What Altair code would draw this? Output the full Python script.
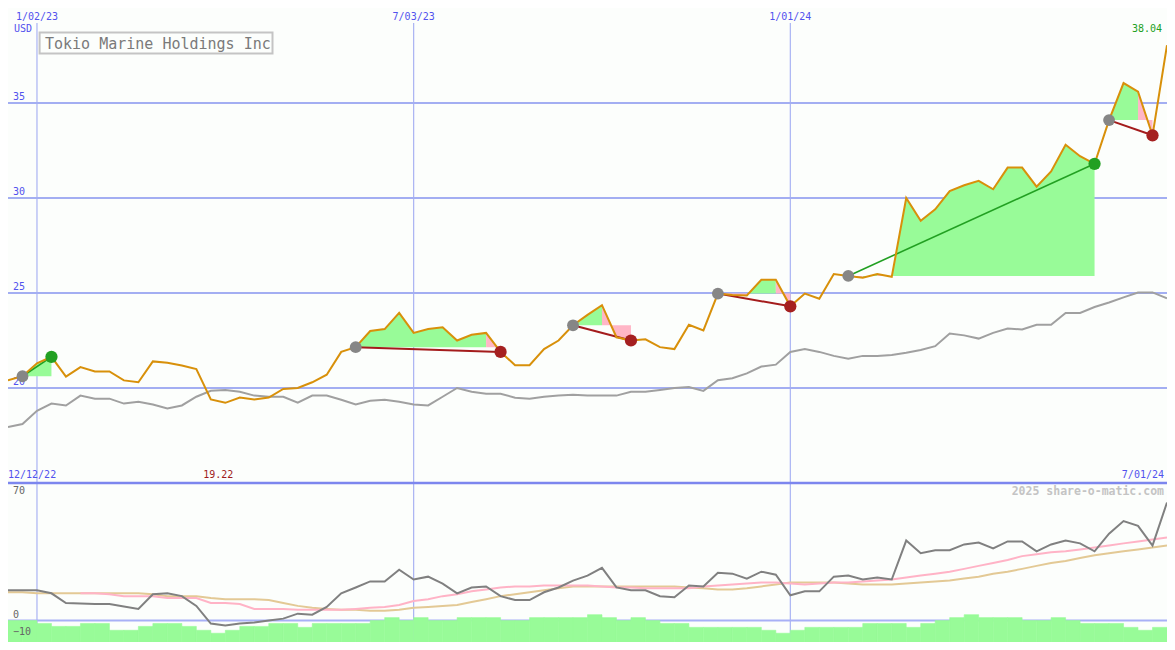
import altair as alt
import pandas as pd

# ---------------- data ----------------
weeks = [d.strftime("%Y-%m-%d") for d in pd.date_range("2022-12-19", periods=81, freq="7D")]

price = [20.4, 20.62, 21.3, 21.64, 20.6, 21.1, 20.87, 20.87, 20.4, 20.3,
         21.4, 21.33, 21.18, 21.0, 19.4, 19.22, 19.5, 19.4, 19.5, 19.95,
         20.0, 20.3, 20.7, 21.9, 22.15, 23.0, 23.1, 23.95, 22.9, 23.1,
         23.2, 22.5, 22.8, 22.9, 21.9, 21.2, 21.2, 22.05, 22.5, 23.3,
         23.85, 24.36, 22.67, 22.5, 22.56, 22.15, 22.05, 23.33, 23.03, 24.97,
         24.9, 24.87, 25.7, 25.7, 24.3, 24.97, 24.7, 26.0, 25.9, 25.8,
         26.0, 25.85, 30.0, 28.8, 29.4, 30.36, 30.67, 30.9, 30.46, 31.6,
         31.6, 30.6, 31.4, 32.8, 32.2, 31.8, 34.1, 36.05, 35.6, 33.3,
         38.04]

bench = [17.95, 18.1, 18.8, 19.18, 19.08, 19.6, 19.44, 19.44, 19.18, 19.28,
         19.13, 18.92, 19.08, 19.54, 19.85, 19.9, 19.8, 19.6, 19.54, 19.54,
         19.23, 19.6, 19.6, 19.38, 19.13, 19.33, 19.38, 19.28, 19.13, 19.08,
         19.54, 20.0, 19.8, 19.7, 19.7, 19.49, 19.44, 19.54, 19.6, 19.64,
         19.6, 19.6, 19.6, 19.8, 19.8, 19.9, 20.0, 20.05, 19.85, 20.41,
         20.51, 20.77, 21.13, 21.23, 21.9, 22.05, 21.9, 21.69, 21.54, 21.69,
         21.69, 21.74, 21.85, 22.0, 22.2, 22.87, 22.77, 22.6, 22.9, 23.13,
         23.08, 23.33, 23.33, 23.95, 23.95, 24.26, 24.5, 24.77, 25.03, 25.03,
         24.72]

osc = [17.1, 17.1, 17.1, 15.4, 9.9, 9.6, 9.4, 9.4, 8.0, 6.6,
       14.9, 15.4, 13.8, 8.3, -1.7, -2.8, -1.7, -1.1, 0.0, 1.1,
       3.9, 3.3, 7.7, 15.4, 18.7, 22.1, 22.1, 28.7, 23.2, 24.8,
       20.9, 15.4, 18.7, 19.3, 13.8, 11.6, 11.6, 16.0, 18.7, 22.6,
       25.4, 29.8, 18.7, 17.1, 17.1, 13.8, 13.2, 19.8, 19.3, 27.0,
       26.5, 23.7, 27.6, 25.9, 14.3, 16.5, 16.5, 24.8, 25.4, 23.2,
       24.3, 23.2, 45.2, 38.0, 39.7, 39.7, 43.0, 44.1, 40.8, 44.7,
       44.7, 39.1, 43.0, 45.2, 43.6, 39.1, 49.1, 56.2, 53.5, 42.4,
       66.7]

ma_pink = [None, None, None, None, None,
           15.4, 15.4, 14.9, 13.8, 13.8, 13.8, 12.7, 12.7, 12.7, 9.9,
           9.9, 9.4, 6.6, 6.6, 6.6, 6.1, 6.1, 6.1, 6.1, 6.6,
           7.2, 7.7, 8.8, 11.0, 12.1, 13.8, 14.9, 16.5, 17.6, 18.7,
           19.3, 19.3, 19.8, 19.8, 19.8, 19.8, 19.3, 18.7, 18.7, 18.2,
           18.2, 18.2, 18.2, 19.3, 19.8, 20.4, 20.9, 21.5, 21.5, 20.9,
           20.4, 20.9, 21.5, 21.5, 22.1, 22.6, 23.2, 24.3, 25.4, 26.5,
           27.6, 29.2, 30.9, 32.5, 34.2, 36.4, 37.5, 38.6, 39.1, 40.2,
           41.3, 42.4, 43.6, 44.7, 45.8, 46.9]

ma_tan = [16.0, 16.0, 15.4, 15.4, 15.4, 15.4, 15.4, 15.4, 15.4, 15.4,
          14.9, 13.8, 13.8, 13.8, 12.7, 12.1, 12.1, 12.1, 11.6, 9.9,
          8.3, 7.2, 6.6, 6.1, 6.1, 5.5, 5.5, 6.1, 7.2, 7.7,
          8.3, 8.8, 10.5, 12.1, 13.8, 14.9, 16.0, 17.1, 18.2, 19.3,
          19.3, 19.3, 19.3, 19.3, 19.3, 19.3, 19.3, 18.7, 18.2, 17.6,
          17.6, 18.2, 19.3, 20.4, 21.5, 21.5, 21.5, 21.5, 20.9, 20.4,
          20.4, 20.4, 20.9, 21.5, 22.1, 22.6, 23.7, 24.8, 26.5, 27.6,
          29.2, 30.9, 32.5, 33.6, 35.3, 36.9, 38.0, 39.1, 40.2, 41.3,
          42.4]

volume = [22, 22, 19, 16, 16, 19, 19, 12, 12, 16,
          19, 19, 16, 12, 9, 12, 16, 16, 19, 19,
          15, 19, 19, 19, 19, 22, 25, 22, 25, 22,
          22, 25, 25, 25, 22, 22, 25, 25, 25, 25,
          28, 25, 22, 25, 22, 19, 19, 15, 15, 15,
          15, 15, 12, 9, 12, 15, 15, 15, 15, 19,
          19, 19, 15, 19, 22, 25, 28, 25, 25, 25,
          22, 22, 25, 22, 19, 19, 19, 15, 12, 15]

# trade signal pairs (start week index, end week index)
pairs = [(1, 3), (24, 34), (39, 43), (49, 54), (58, 75), (76, 79)]

grid_prices = [20, 25, 30, 35]
grid_weeks = [weeks[2], weeks[28], weeks[54]]
grid_week_labels = ["1/02/23", "7/03/23", "1/01/24"]
osc_labels = [70, 0, -10]
title = "Tokio Marine Holdings Inc"

# ---------------- tables ----------------
main = pd.DataFrame({"date": weeks, "price": price, "bench": bench, "osc": osc,
                     "pink": ma_pink, "tan": ma_tan})
vol_df = pd.DataFrame({"date": weeks[:-1], "date2": weeks[1:], "vol": volume})

fill_rows, pair_rows, start_rows, end_rows = [], [], [], []
run_id = 0
for p, (s, e) in enumerate(pairs):
    base = price[s]
    d = "up" if price[e] >= base else "down"
    prev_sign = None
    for k in range(s, e):
        sign = "up" if price[k + 1] >= base else "down"
        if sign != prev_sign:
            run_id += 1
            fill_rows.append({"date": weeks[k], "price": price[k], "base": base,
                              "seg": run_id, "sign": sign})
            prev_sign = sign
        fill_rows.append({"date": weeks[k + 1], "price": price[k + 1], "base": base,
                          "seg": run_id, "sign": sign})
    for j in (s, e):
        pair_rows.append({"date": weeks[j], "price": price[j], "pair": p, "dir": d})
    start_rows.append({"date": weeks[s], "price": price[s]})
    end_rows.append({"date": weeks[e], "price": price[e], "dir": d})
fill_df = pd.DataFrame(fill_rows)
pair_df = pd.DataFrame(pair_rows)
start_df = pd.DataFrame(start_rows)
end_df = pd.DataFrame(end_rows)

low_i = price.index(min(price))

# ---------------- layout helpers ----------------
W, H, TOP = 1159, 634, 475
FONT = "DejaVu Sans Mono"
BLUE = "#5252ee"
BG = "#fcfefc"

x_scale = alt.Scale(domain=[alt.DateTime(year=2022, month=12, date=19, utc=True),
                            alt.DateTime(year=2024, month=7, date=1, utc=True)],
                    range=[0, W])


def X(field="date"):
    return alt.X(f"{field}:T", scale=x_scale, axis=None)


def YP(field):
    return alt.Y(f"{field}:Q", scale=alt.Scale(domain=[15, 40], range=[TOP, 0]), axis=None)


def YB(field):
    return alt.Y(f"{field}:Q", scale=alt.Scale(domain=[-12.1, 77.7], range=[H, TOP]), axis=None)


def YV(field):
    return alt.Y(f"{field}:Q", scale=alt.Scale(domain=[0, 163], range=[H, TOP]), axis=None)


one = pd.DataFrame({"a": [0]})

# ---------------- layers ----------------
vlines = alt.Chart(pd.DataFrame({"date": grid_weeks})).mark_rule(
    color="#a9b3f3", strokeWidth=1.2).encode(x=X(), y=alt.value(15), y2=alt.value(H))

hgrid = alt.Chart(pd.DataFrame({"v": grid_prices})).mark_rule(
    color="#a3aef2", strokeWidth=2).encode(y=YP("v"), x=alt.value(0), x2=alt.value(W))

sep = alt.Chart(one).mark_rule(color="#7c86ee", strokeWidth=2.5).encode(
    y=alt.value(TOP), x=alt.value(0), x2=alt.value(W))

zero = alt.Chart(pd.DataFrame({"v": [0]})).mark_rule(
    color="#a8b0f6", strokeWidth=2).encode(y=YB("v"), x=alt.value(0), x2=alt.value(W))

ylab = alt.Chart(pd.DataFrame({"v": grid_prices})).mark_text(
    align="left", baseline="bottom", dy=-1, font=FONT, fontSize=10, color=BLUE
).encode(y=YP("v"), x=alt.value(5), text="v:Q")

blab = alt.Chart(pd.DataFrame({"v": osc_labels})).mark_text(
    align="left", baseline="bottom", dy=-1, font=FONT, fontSize=10, color="#666666"
).encode(y=YB("v"), x=alt.value(5), text="v:Q")

xlab = alt.Chart(pd.DataFrame({"date": grid_weeks, "t": grid_week_labels})).mark_text(
    align="center", baseline="middle", font=FONT, fontSize=10, color=BLUE
).encode(x=X(), y=alt.value(9), text="t:N")

fill_up = alt.Chart(fill_df).transform_filter(alt.datum.sign == "up").mark_area(
    color="#98fb98", opacity=1).encode(x=X(), y=YP("price"), y2=alt.Y2("base"), detail="seg:N")
fill_dn = alt.Chart(fill_df).transform_filter(alt.datum.sign == "down").mark_area(
    color="#ffb6c6", opacity=1).encode(x=X(), y=YP("price"), y2=alt.Y2("base"), detail="seg:N")

bench_line = alt.Chart(main).mark_line(color="#a0a0a0", strokeWidth=2).encode(
    x=X(), y=YP("bench"))

pair_up = alt.Chart(pair_df).transform_filter(alt.datum.dir == "up").mark_line(
    color="#22a022", strokeWidth=1.6).encode(x=X(), y=YP("price"), detail="pair:N")
pair_dn = alt.Chart(pair_df).transform_filter(alt.datum.dir == "down").mark_line(
    color="#a41c1c", strokeWidth=2).encode(x=X(), y=YP("price"), detail="pair:N")

price_line = alt.Chart(main).mark_line(color="#d8900a", strokeWidth=2).encode(
    x=X(), y=YP("price"))

start_pts = alt.Chart(start_df).mark_circle(size=140, color="#868686", opacity=1).encode(
    x=X(), y=YP("price"))
end_up = alt.Chart(end_df).transform_filter(alt.datum.dir == "up").mark_circle(
    size=150, color="#22a022", opacity=1).encode(x=X(), y=YP("price"))
end_dn = alt.Chart(end_df).transform_filter(alt.datum.dir == "down").mark_circle(
    size=150, color="#a52020", opacity=1).encode(x=X(), y=YP("price"))

bars = alt.Chart(vol_df).mark_rect(color="#98fb98", stroke="#98fb98", strokeWidth=0.6).encode(
    x=X(), x2=alt.X2("date2"), y=YV("vol"), y2=alt.value(H))

tan_line = alt.Chart(main).mark_line(color="#e3c995", strokeWidth=2).encode(x=X(), y=YB("tan"))
pink_line = alt.Chart(main).mark_line(color="#ffb3c6", strokeWidth=2).encode(x=X(), y=YB("pink"))
osc_line = alt.Chart(main).mark_line(color="#808080", strokeWidth=2).encode(x=X(), y=YB("osc"))

title_df = pd.DataFrame({"t": [title]})
title_box = alt.Chart(title_df).mark_rect(fill=BG, stroke="#c4c4c4", strokeWidth=2).encode(
    x=alt.value(31.6), x2=alt.value(264.5), y=alt.value(24.5), y2=alt.value(45.5))
title_txt = alt.Chart(title_df).mark_text(
    align="left", baseline="middle", font=FONT, fontSize=15, color="#7a7a7a"
).encode(x=alt.value(37), y=alt.value(35.5), text="t:N")

usd = alt.Chart(pd.DataFrame({"t": ["USD"]})).mark_text(
    align="left", baseline="middle", font=FONT, fontSize=10, color=BLUE
).encode(x=alt.value(6), y=alt.value(20.5), text="t:N")

last_lab = alt.Chart(pd.DataFrame({"t": [f"{price[-1]:.2f}"]})).mark_text(
    align="right", baseline="middle", font=FONT, fontSize=10, color="#22a022"
).encode(x=alt.value(1154), y=alt.value(20.5), text="t:N")

start_lab = alt.Chart(pd.DataFrame({"t": ["12/12/22"]})).mark_text(
    align="left", baseline="middle", font=FONT, fontSize=10, color=BLUE
).encode(x=alt.value(0), y=alt.value(467), text="t:N")

end_lab = alt.Chart(pd.DataFrame({"t": ["7/01/24"]})).mark_text(
    align="right", baseline="middle", font=FONT, fontSize=10, color=BLUE
).encode(x=alt.value(1156), y=alt.value(467), text="t:N")

low_lab = alt.Chart(pd.DataFrame({"date": [weeks[low_i]], "t": [f"{price[low_i]:.2f}"]})).mark_text(
    align="center", baseline="middle", dx=-7, font=FONT, fontSize=10, color="#a01c1c"
).encode(x=X(), y=alt.value(467), text="t:N")

wm = alt.Chart(pd.DataFrame({"t": ["2025 share-o-matic.com"]})).mark_text(
    align="right", baseline="middle", font=FONT, fontSize=11.5, fontWeight="bold", color="#c4c4c4"
).encode(x=alt.value(1156), y=alt.value(484), text="t:N")

chart = alt.layer(
    vlines, hgrid, zero, bars, sep, ylab, blab, xlab,
    fill_up, fill_dn, bench_line, pair_up, pair_dn, price_line,
    start_pts, end_up, end_dn,
    tan_line, pink_line, osc_line,
    title_box, title_txt, usd, last_lab, start_lab, end_lab, low_lab, wm,
).resolve_scale(y="independent").properties(
    width=W, height=H, padding=0, background=BG,
    autosize=alt.AutoSizeParams(type="none"),
).configure_view(stroke=None)

chart.save("out.html", embed_options={"renderer": "svg", "actions": False})
